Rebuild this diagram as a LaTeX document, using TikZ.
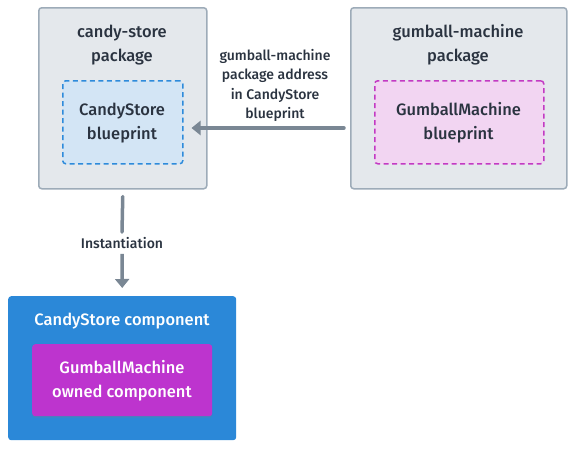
\documentclass[tikz,border=0pt]{standalone}
\usepackage{fontspec}
\setmainfont{Fira Sans Medium}
\usetikzlibrary{arrows.meta,shadows}
\definecolor{pkgfill}{HTML}{E4E8EC}
\definecolor{pkgdraw}{HTML}{9DABB8}
\definecolor{bpbluefill}{HTML}{D3E5F5}
\definecolor{bpbluedraw}{HTML}{2E8BDB}
\definecolor{bppinkfill}{HTML}{F2D5F2}
\definecolor{bppinkdraw}{HTML}{C33AC3}
\definecolor{compblue}{HTML}{2B88D8}
\definecolor{compmag}{HTML}{BD34CE}
\definecolor{arrowgray}{HTML}{7A8794}
\definecolor{txt}{HTML}{2A3340}
\begin{document}
\begin{tikzpicture}[x=1pt,y=-1pt,
  pkg/.style={draw=pkgdraw,fill=pkgfill,line width=1.5pt,rounded corners=3pt},
  bp/.style={line width=1.5pt,dash pattern=on 5pt off 3.5pt,rounded corners=3pt},
  title/.style={font=\fontsize{16.5}{24}\selectfont,text=txt,align=center,inner sep=0pt},
  small/.style={font=\fontsize{14}{19.5}\selectfont,text=txt,align=center,inner sep=0pt},
  conn/.style={draw=arrowgray,line width=3.5pt,-{Triangle[width=14pt,length=9pt]}},
]
\useasboundingbox (0,0) rectangle (574,448);
% candy-store package
\node[pkg,minimum width=168pt,minimum height=181pt,anchor=north west] (csp) at (38,7) {};
\node[title] (cspt) at (122,45) {candy-store\\package};
\node[bp,draw=bpbluedraw,fill=bpbluefill,minimum width=120pt,minimum height=83pt,anchor=north west] (csb) at (62,80) {};
\node[title] (csbt) at (122,123) {CandyStore\\blueprint};
% gumball-machine package
\node[pkg,minimum width=216pt,minimum height=181pt,anchor=north west] (gmp) at (350,7) {};
\node[title] (gmpt) at (458,45) {gumball-machine\\package};
\node[bp,draw=bppinkdraw,fill=bppinkfill,minimum width=169pt,minimum height=83pt,anchor=north west] (gmb) at (374,80) {};
\node[title] (gmbt) at (458.5,123) {GumballMachine\\blueprint};
% horizontal arrow
\coordinate (hs) at ([xshift=-6pt]gmp.west |- 0,128);
\coordinate (he) at ([xshift=8pt]csb.east |- 0,128);
\draw[conn,line cap=round] (hs) -- (he);
\node[small] (hl) at (275,85.5) {gumball-machine\\package address\\in CandyStore\\blueprint};
% component
\node[fill=compblue,rounded corners=3pt,minimum width=228pt,minimum height=144pt,anchor=north west] (csc) at (8,296) {};
\node[title,text=white] (csct) at (122,321) {CandyStore component};
\node[fill=compmag,rounded corners=3pt,minimum width=180pt,minimum height=72pt,anchor=north west,drop shadow={shadow xshift=0pt,shadow yshift=-1.5pt,opacity=0.25}] (gmc) at (32,344) {};
\node[title,text=white] (gmct) at (122,381) {GumballMachine\\owned component};
% instantiation arrow
\node[small,fill=white,inner sep=3pt] (il) at (122,243) {Instantiation};
\draw[draw=arrowgray,line width=3.5pt,line cap=round] ([yshift=-7pt]csp.south) -- ([yshift=2pt]il.north);
\draw[conn] ([yshift=-2pt]il.south) -- ([yshift=8pt]csc.north);
\end{tikzpicture}
\end{document}
